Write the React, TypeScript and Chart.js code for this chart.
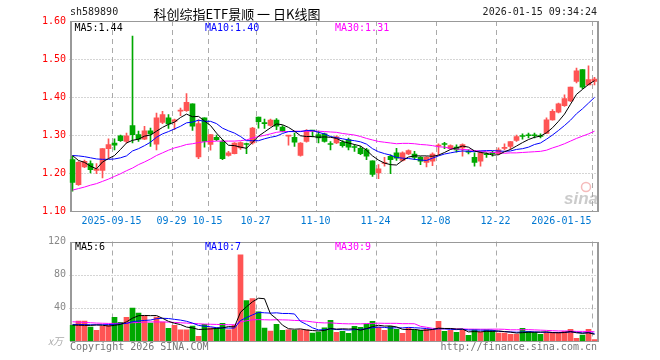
import React, { useEffect, useRef } from 'react';
import { Chart, registerables } from 'chart.js';

Chart.register(...registerables);

const DATES: string[] = [
  '2025-09-04','2025-09-05','2025-09-08','2025-09-09','2025-09-10','2025-09-11','2025-09-12','2025-09-15','2025-09-16','2025-09-17',
  '2025-09-18','2025-09-19','2025-09-22','2025-09-23','2025-09-24','2025-09-25','2025-09-26','2025-09-29','2025-09-30','2025-10-09',
  '2025-10-10','2025-10-13','2025-10-14','2025-10-15','2025-10-16','2025-10-17','2025-10-20','2025-10-21','2025-10-22','2025-10-23',
  '2025-10-24','2025-10-27','2025-10-28','2025-10-29','2025-10-30','2025-10-31','2025-11-03','2025-11-04','2025-11-05','2025-11-06',
  '2025-11-07','2025-11-10','2025-11-11','2025-11-12','2025-11-13','2025-11-14','2025-11-17','2025-11-18','2025-11-19','2025-11-20',
  '2025-11-21','2025-11-24','2025-11-25','2025-11-26','2025-11-27','2025-11-28','2025-12-01','2025-12-02','2025-12-03','2025-12-04',
  '2025-12-05','2025-12-08','2025-12-09','2025-12-10','2025-12-11','2025-12-12','2025-12-15','2025-12-16','2025-12-17','2025-12-18',
  '2025-12-19','2025-12-22','2025-12-23','2025-12-24','2025-12-25','2025-12-26','2025-12-29','2025-12-30','2025-12-31','2026-01-05',
  '2026-01-06','2026-01-07','2026-01-08','2026-01-09','2026-01-12','2026-01-13','2026-01-14','2026-01-15',
];

const OPEN: number[] = [
  1.235, 1.169, 1.216, 1.225, 1.207, 1.207, 1.264, 1.279, 1.298, 1.283,
  1.325, 1.301, 1.289, 1.311, 1.276, 1.333, 1.345, 1.336, 1.363, 1.364,
  1.382, 1.242, 1.345, 1.275, 1.294, 1.283, 1.246, 1.251, 1.266, 1.276,
  1.279, 1.347, 1.331, 1.325, 1.339, 1.321, 1.297, 1.294, 1.246, 1.283,
  1.311, 1.301, 1.303, 1.276, 1.279, 1.281, 1.288, 1.269, 1.265, 1.261,
  1.232, 1.200, 1.225, 1.244, 1.253, 1.233, 1.250, 1.250, 1.241, 1.228,
  1.231, 1.271, 1.276, 1.264, 1.268, 1.266, 1.256, 1.241, 1.231, 1.249,
  1.252, 1.251, 1.265, 1.270, 1.286, 1.297, 1.299, 1.299, 1.297, 1.304,
  1.340, 1.360, 1.377, 1.390, 1.441, 1.472, 1.432, 1.441,
];
const HIGH: number[] = [
  1.244, 1.230, 1.234, 1.232, 1.225, 1.264, 1.290, 1.290, 1.300, 1.305,
  1.560, 1.310, 1.323, 1.318, 1.358, 1.362, 1.354, 1.342, 1.371, 1.409,
  1.382, 1.340, 1.345, 1.301, 1.300, 1.288, 1.257, 1.280, 1.282, 1.279,
  1.320, 1.347, 1.342, 1.342, 1.343, 1.325, 1.299, 1.305, 1.280, 1.314,
  1.312, 1.310, 1.305, 1.283, 1.298, 1.285, 1.292, 1.275, 1.270, 1.265,
  1.232, 1.222, 1.241, 1.248, 1.265, 1.256, 1.261, 1.257, 1.243, 1.243,
  1.253, 1.277, 1.281, 1.274, 1.274, 1.277, 1.261, 1.253, 1.257, 1.253,
  1.257, 1.266, 1.277, 1.283, 1.300, 1.303, 1.305, 1.305, 1.303, 1.345,
  1.367, 1.384, 1.406, 1.426, 1.476, 1.472, 1.482, 1.452,
];
const LOW: number[] = [
  1.152, 1.167, 1.214, 1.200, 1.198, 1.187, 1.239, 1.261, 1.283, 1.279,
  1.279, 1.283, 1.288, 1.270, 1.261, 1.330, 1.317, 1.314, 1.351, 1.362,
  1.312, 1.238, 1.268, 1.260, 1.285, 1.235, 1.244, 1.250, 1.262, 1.251,
  1.276, 1.318, 1.317, 1.323, 1.314, 1.308, 1.273, 1.270, 1.244, 1.281,
  1.295, 1.279, 1.281, 1.261, 1.277, 1.268, 1.261, 1.257, 1.248, 1.235,
  1.191, 1.185, 1.218, 1.198, 1.233, 1.231, 1.248, 1.235, 1.222, 1.216,
  1.219, 1.248, 1.264, 1.262, 1.255, 1.244, 1.250, 1.218, 1.218, 1.241,
  1.244, 1.248, 1.261, 1.263, 1.283, 1.289, 1.292, 1.292, 1.292, 1.304,
  1.339, 1.358, 1.375, 1.388, 1.437, 1.422, 1.432, 1.432,
];
const CLOSE: number[] = [
  1.175, 1.228, 1.231, 1.209, 1.211, 1.264, 1.275, 1.273, 1.285, 1.298,
  1.301, 1.289, 1.311, 1.303, 1.345, 1.354, 1.329, 1.340, 1.364, 1.386,
  1.323, 1.330, 1.283, 1.301, 1.288, 1.238, 1.253, 1.279, 1.280, 1.275,
  1.318, 1.335, 1.330, 1.339, 1.323, 1.310, 1.299, 1.281, 1.279, 1.310,
  1.310, 1.292, 1.283, 1.275, 1.295, 1.272, 1.268, 1.267, 1.251, 1.244,
  1.196, 1.211, 1.226, 1.235, 1.239, 1.253, 1.259, 1.241, 1.231, 1.241,
  1.250, 1.272, 1.275, 1.272, 1.261, 1.275, 1.255, 1.228, 1.253, 1.248,
  1.251, 1.261, 1.266, 1.283, 1.296, 1.296, 1.298, 1.298, 1.296, 1.340,
  1.362, 1.382, 1.396, 1.426, 1.469, 1.426, 1.446, 1.447,
];

const MA5: number[] = [
  1.246, 1.233, 1.228, 1.218, 1.211, 1.229, 1.238, 1.246, 1.262, 1.279,
  1.286, 1.289, 1.297, 1.300, 1.310, 1.320, 1.328, 1.334, 1.346, 1.355,
  1.348, 1.349, 1.337, 1.325, 1.305, 1.288, 1.273, 1.272, 1.268, 1.265,
  1.281, 1.297, 1.308, 1.319, 1.329, 1.327, 1.320, 1.310, 1.298, 1.296,
  1.296, 1.294, 1.295, 1.294, 1.291, 1.283, 1.279, 1.275, 1.271, 1.260,
  1.245, 1.234, 1.226, 1.222, 1.221, 1.233, 1.242, 1.245, 1.245, 1.245,
  1.244, 1.247, 1.254, 1.262, 1.266, 1.271, 1.268, 1.258, 1.254, 1.252,
  1.247, 1.248, 1.256, 1.262, 1.271, 1.280, 1.288, 1.294, 1.297, 1.306,
  1.319, 1.336, 1.355, 1.381, 1.407, 1.420, 1.433, 1.443,
];
const MA10: number[] = [
  1.246, 1.245, 1.243, 1.240, 1.237, 1.236, 1.236, 1.237, 1.240, 1.245,
  1.258, 1.264, 1.272, 1.281, 1.294, 1.303, 1.309, 1.316, 1.323, 1.332,
  1.334, 1.339, 1.336, 1.336, 1.330, 1.318, 1.311, 1.305, 1.296, 1.285,
  1.285, 1.285, 1.290, 1.294, 1.297, 1.304, 1.309, 1.309, 1.309, 1.312,
  1.312, 1.307, 1.303, 1.296, 1.293, 1.290, 1.287, 1.285, 1.282, 1.276,
  1.264, 1.256, 1.251, 1.247, 1.241, 1.239, 1.238, 1.236, 1.234, 1.233,
  1.239, 1.245, 1.250, 1.253, 1.256, 1.258, 1.257, 1.256, 1.258, 1.259,
  1.259, 1.258, 1.257, 1.258, 1.262, 1.264, 1.268, 1.275, 1.279, 1.289,
  1.300, 1.312, 1.325, 1.339, 1.356, 1.369, 1.384, 1.399,
];
const MA30: number[] = [
  1.155, 1.159, 1.163, 1.168, 1.172, 1.178, 1.184, 1.191, 1.198, 1.206,
  1.213, 1.222, 1.229, 1.237, 1.246, 1.253, 1.260, 1.266, 1.270, 1.275,
  1.277, 1.280, 1.282, 1.283, 1.284, 1.284, 1.284, 1.284, 1.285, 1.287,
  1.292, 1.296, 1.299, 1.303, 1.307, 1.309, 1.309, 1.310, 1.310, 1.310,
  1.310, 1.310, 1.309, 1.308, 1.307, 1.304, 1.302, 1.300, 1.296, 1.291,
  1.287, 1.283, 1.281, 1.279, 1.277, 1.278, 1.278, 1.277, 1.275, 1.274,
  1.272, 1.269, 1.268, 1.265, 1.263, 1.262, 1.261, 1.259, 1.258, 1.256,
  1.254, 1.253, 1.252, 1.253, 1.253, 1.254, 1.255, 1.256, 1.257, 1.260,
  1.266, 1.271, 1.277, 1.284, 1.291, 1.297, 1.303, 1.310,
];

const VOLUME: number[] = [
  18.8, 24, 24, 16.8, 12.8, 17.6, 18.8, 28.4, 22.4, 28.4,
  39.6, 33.6, 30, 21.6, 28.8, 22.8, 15.2, 18.8, 13.6, 13.6,
  18, 5.6, 20, 16, 16, 21.2, 13.6, 18.8, 104, 48.8,
  51.2, 35.2, 15.6, 12, 20, 12.8, 13.6, 12.8, 13.6, 13.6,
  9.6, 10.8, 16, 24.8, 10.4, 11.6, 9.2, 17.6, 16.4, 20.4,
  23.6, 16.8, 12.8, 17.6, 14, 9.2, 15.6, 13.6, 12.8, 14,
  13.6, 23.6, 11.6, 12.8, 10.4, 13.6, 6.8, 13.6, 10.8, 13.6,
  12.8, 9.6, 9.6, 8, 8, 15.2, 11.6, 10.4, 8, 10.4,
  10.4, 10.4, 11.6, 14, 3.2, 7.2, 14, 1.6,
];
const VOL_MA5: number[] = [
  19.2, 19.0, 18.8, 18.8, 19.3, 19.0, 18.0, 18.9, 20.0, 23.1,
  27.5, 30.5, 30.8, 30.6, 30.7, 27.4, 23.7, 21.4, 19.8, 16.8,
  15.8, 13.9, 14.2, 14.6, 15.1, 15.8, 17.4, 17.1, 34.7, 41.3,
  47.3, 51.6, 51.0, 32.6, 26.8, 19.1, 14.8, 14.2, 14.6, 13.3,
  12.6, 12.1, 12.7, 15.0, 14.3, 14.7, 14.4, 14.7, 13.0, 15.0,
  17.4, 19.0, 18.0, 18.2, 17.0, 14.1, 13.8, 14.0, 13.0, 13.0,
  13.9, 15.5, 15.1, 15.1, 14.4, 14.4, 11.0, 11.4, 11.0, 11.7,
  11.5, 12.1, 11.3, 10.7, 9.6, 10.1, 10.5, 10.6, 10.6, 11.1,
  10.2, 9.9, 10.2, 11.4, 9.9, 9.3, 10.0, 8.0,
];
const VOL_MA10: number[] = [
  20.0, 20.0, 19.8, 19.6, 19.6, 19.6, 19.8, 20.2, 20.6, 21.2,
  23.3, 24.2, 24.8, 25.3, 26.9, 27.4, 27.1, 26.1, 25.2, 23.8,
  21.6, 18.8, 17.8, 17.2, 16.0, 15.8, 15.6, 15.6, 24.7, 28.2,
  31.5, 34.5, 34.0, 33.6, 34.0, 33.2, 33.2, 32.6, 23.6, 20.0,
  15.9, 13.4, 13.5, 14.8, 13.8, 13.7, 13.2, 13.7, 14.0, 14.7,
  16.1, 16.7, 16.4, 15.6, 16.0, 15.8, 16.4, 16.0, 15.6, 15.0,
  14.0, 14.7, 14.6, 14.1, 13.7, 14.2, 13.3, 13.3, 13.1, 13.0,
  13.0, 11.6, 11.4, 10.9, 10.6, 10.8, 11.3, 11.0, 10.7, 10.4,
  10.1, 10.2, 10.4, 11.0, 10.5, 9.7, 10.0, 9.1,
];
const VOL_MA30: number[] = [
  23.2, 22.8, 22.4, 22.0, 21.6, 21.4, 21.2, 21.2, 21.4, 21.6,
  22.0, 22.4, 22.8, 23.0, 23.0, 23.0, 22.8, 22.4, 22.0, 21.6,
  21.2, 20.8, 20.4, 20.2, 20.0, 19.8, 19.6, 19.6, 23.0, 24.4,
  25.5, 25.8, 25.6, 25.4, 25.6, 25.5, 25.3, 24.8, 24.5, 24.0,
  23.0, 22.2, 21.8, 21.9, 21.3, 20.9, 20.7, 20.7, 20.7, 21.0,
  21.2, 21.5, 21.3, 21.3, 21.3, 20.9, 20.9, 20.8, 17.7, 16.6,
  15.3, 14.9, 14.8, 14.8, 14.5, 14.5, 14.3, 14.3, 14.2, 14.2,
  14.3, 14.3, 14.1, 13.5, 13.5, 13.6, 13.7, 13.4, 13.1, 12.8,
  12.4, 12.1, 12.1, 12.0, 11.6, 11.6, 11.5, 11.1,
];

const TICK_DATES: string[] = ['2025-09-15','2025-09-29','2025-10-15','2025-10-27','2025-11-10','2025-11-24','2025-12-08','2025-12-22','2026-01-15'];
const TICK_LABELS: string[] = ['2025-09-15','09-29','10-15','10-27','11-10','11-24','12-08','12-22','2026-01-15'];
const PRICE_GRID: number[] = [1.2, 1.3, 1.4, 1.5];
const VOL_GRID: number[] = [40, 80];
const VOL_LEGEND: string[] = ['MA5:6', 'MA10:7', 'MA30:9'];

const TITLE_CODE = 'sh589890';
const TITLE = '科创综指ETF景顺 一 日K线图';
const TIMESTAMP = '2026-01-15 09:34:24';

const RED = '#ff5454';
const GREEN = '#00a800';
const MONO = '"DejaVu Sans Mono", monospace';
const FRAME = '#999999';
const GRID = '#aaaaaa';

function makeGridPlugin(id: string, hLines: number[], isPrice: boolean) {
  return {
    id,
    beforeDatasetsDraw(chart: any) {
      const { ctx, chartArea: a, scales } = chart;
      const x = scales.x;
      const y = scales.y;
      const slot = (a.right - a.left) / DATES.length;
      ctx.save();
      ctx.lineWidth = 1;
      ctx.strokeStyle = GRID;
      ctx.setLineDash([1, 2]);
      for (const v of hLines) {
        const py = Math.round(y.getPixelForValue(v)) + 0.5;
        ctx.beginPath();
        ctx.moveTo(a.left, py);
        ctx.lineTo(a.right, py);
        ctx.stroke();
      }
      ctx.setLineDash([5, 4]);
      for (const d of TICK_DATES) {
        const i = DATES.indexOf(d);
        const px = Math.round(x.getPixelForValue(i) - slot / 2) + 0.5;
        ctx.beginPath();
        ctx.moveTo(px, a.top);
        ctx.lineTo(px, a.bottom);
        ctx.stroke();
      }
      ctx.setLineDash([]);
      // frame
      ctx.strokeStyle = FRAME;
      ctx.lineWidth = 1;
      const top = Math.round(a.top) + 0.5;
      const bot = Math.round(a.bottom) + 0.5;
      ctx.beginPath();
      ctx.moveTo(70, top); ctx.lineTo(598.5, top);
      ctx.moveTo(70, bot); ctx.lineTo(598.5, bot);
      ctx.stroke();
      ctx.lineWidth = 2;
      ctx.beginPath();
      ctx.moveTo(71, top - 0.5); ctx.lineTo(71, bot + 0.5);
      ctx.moveTo(598, top - 0.5); ctx.lineTo(598, bot + 0.5);
      ctx.stroke();
      if (isPrice) {
        // faint sina watermark
        ctx.font = 'italic bold 17px "Liberation Sans", sans-serif';
        ctx.fillStyle = 'rgba(160,160,160,0.55)';
        ctx.textAlign = 'left';
        ctx.textBaseline = 'alphabetic';
        ctx.fillText('sina', 564, 204);
        ctx.strokeStyle = 'rgba(235,120,120,0.5)';
        ctx.lineWidth = 1.5;
        ctx.beginPath();
        ctx.arc(586, 187, 4.5, 0, Math.PI * 2);
        ctx.stroke();
      }
      ctx.restore();
    },
    afterDraw(chart: any) {
      const { ctx, chartArea: a, scales } = chart;
      const x = scales.x;
      const slot = (a.right - a.left) / DATES.length;
      ctx.save();
      ctx.font = `10px ${MONO}`;
      ctx.textBaseline = 'middle';
      if (isPrice) {
        const leg = [
          { t: `MA5:${MA5[MA5.length - 1].toFixed(2)}`, c: '#000000', dx: 5 },
          { t: `MA10:${MA10[MA10.length - 1].toFixed(2)}`, c: '#0000ff', dx: 135.5 },
          { t: `MA30:${MA30[MA30.length - 1].toFixed(2)}`, c: '#ff00ff', dx: 265.5 },
        ];
        ctx.textAlign = 'left';
        for (const l of leg) {
          ctx.fillStyle = l.c;
          ctx.fillText(l.t, a.left + l.dx, a.top + 7);
        }
        ctx.fillStyle = '#0078d2';
        TICK_DATES.forEach((d, k) => {
          const i = DATES.indexOf(d);
          const px = x.getPixelForValue(i) - slot / 2;
          ctx.textAlign = k === TICK_DATES.length - 1 ? 'right' : 'center';
          ctx.fillText(TICK_LABELS[k], px, a.bottom + 10);
        });
      } else {
        const cols = ['#000000', '#0000ff', '#ff00ff'];
        const dxs = [5.5, 135.5, 265.5];
        ctx.textAlign = 'left';
        VOL_LEGEND.forEach((t, k) => {
          ctx.fillStyle = cols[k];
          ctx.fillText(t, a.left + dxs[k], a.top + 6);
        });
        ctx.fillStyle = '#aaaaaa';
        ctx.textAlign = 'right';
        ctx.font = 'italic 10px "Noto Sans CJK SC", sans-serif';
        ctx.fillText('x万', 63, a.bottom);
      }
      ctx.restore();
    },
  };
}

export default function App() {
  const priceRef = useRef<HTMLCanvasElement>(null);
  const volRef = useRef<HTMLCanvasElement>(null);

  useEffect(() => {
    const colors = CLOSE.map((c, i) => (c >= OPEN[i] ? RED : GREEN));
    const lineDs = (data: number[], color: string) => ({
      type: 'line' as const,
      data,
      borderColor: color,
      borderWidth: 1,
      pointRadius: 0,
      tension: 0,
      fill: false,
      order: 0,
    });

    const price = new Chart(priceRef.current as HTMLCanvasElement, {
      type: 'bar',
      data: {
        labels: DATES,
        datasets: [
          lineDs(MA5, '#000000'),
          lineDs(MA10, '#0000ff'),
          lineDs(MA30, '#ff00ff'),
          {
            type: 'bar',
            data: OPEN.map((o, i) => [o, CLOSE[i]]),
            backgroundColor: colors,
            borderWidth: 0,
            barThickness: 5,
            minBarLength: 1,
            grouped: false,
            order: 1,
          } as any,
          {
            type: 'bar',
            data: LOW.map((l, i) => [l, HIGH[i]]),
            backgroundColor: colors,
            borderWidth: 0,
            barThickness: 1,
            grouped: false,
            order: 2,
          } as any,
        ],
      },
      options: {
        responsive: false,
        animation: false,
        events: [],
        layout: { padding: { left: 0, right: 62.5, top: 21, bottom: 21 } },
        plugins: { legend: { display: false }, tooltip: { enabled: false } },
        scales: {
          x: { type: 'category', display: false, offset: true, grid: { display: false } },
          y: {
            type: 'linear',
            min: 1.1,
            max: 1.6,
            afterFit: (s: any) => { s.width = 69.5; },
            grid: { display: false, drawTicks: false },
            border: { display: false },
            ticks: {
              stepSize: 0.1,
              color: '#ff0000',
              padding: 3.5,
              font: { family: MONO, size: 10 },
              callback: (v: any) => Number(v).toFixed(2),
            },
          },
        },
      } as any,
      plugins: [makeGridPlugin('priceGrid', PRICE_GRID, true)],
    });

    const vol = new Chart(volRef.current as HTMLCanvasElement, {
      type: 'bar',
      data: {
        labels: DATES,
        datasets: [
          lineDs(VOL_MA5, '#000000'),
          lineDs(VOL_MA10, '#0000ff'),
          lineDs(VOL_MA30, '#ff00ff'),
          {
            type: 'bar',
            data: VOLUME,
            backgroundColor: colors,
            borderWidth: 0,
            barThickness: 5,
            grouped: false,
            order: 1,
          } as any,
        ],
      },
      options: {
        responsive: false,
        animation: false,
        events: [],
        layout: { padding: { left: 0, right: 62.5, top: 9, bottom: 19 } },
        plugins: { legend: { display: false }, tooltip: { enabled: false } },
        scales: {
          x: { type: 'category', display: false, offset: true, grid: { display: false } },
          y: {
            type: 'linear',
            min: 0,
            max: 120,
            afterFit: (s: any) => { s.width = 69.5; },
            grid: { display: false, drawTicks: false },
            border: { display: false },
            ticks: {
              stepSize: 40,
              color: '#888888',
              padding: 3.5,
              font: { family: MONO, size: 10 },
              callback: (v: any) => (Number(v) === 0 ? '' : String(v)),
            },
          },
        },
      } as any,
      plugins: [makeGridPlugin('volGrid', VOL_GRID, false)],
    });

    return () => {
      price.destroy();
      vol.destroy();
    };
  }, []);

  const mono: React.CSSProperties = {
    position: 'absolute',
    fontFamily: MONO,
    fontSize: 10,
    lineHeight: '12px',
    whiteSpace: 'nowrap',
  };

  return (
    <div style={{ position: 'fixed', left: 0, top: 0, width: 660, height: 360, background: '#ffffff', overflow: 'hidden' }}>
      <canvas ref={priceRef} width={660} height={232} style={{ position: 'absolute', left: 0, top: 0, width: 660, height: 232 }} />
      <canvas ref={volRef} width={660} height={128} style={{ position: 'absolute', left: 0, top: 232, width: 660, height: 128 }} />
      <div style={{ ...mono, left: 70, top: 6, color: '#222' }}>{TITLE_CODE}</div>
      <div
        style={{
          position: 'absolute',
          left: 237,
          top: 5,
          transform: 'translateX(-50%)',
          fontFamily: '"Noto Sans CJK SC", sans-serif',
          fontSize: 13,
          lineHeight: '17px',
          color: '#000',
          whiteSpace: 'pre',
        }}
      >
        {TITLE}
      </div>
      <div style={{ ...mono, right: 63, top: 6, color: '#222' }}>{TIMESTAMP}</div>
      <div style={{ ...mono, left: 70, top: 341, color: '#777' }}>Copyright 2026 SINA.COM</div>
      <div style={{ ...mono, right: 63, top: 341, color: '#777' }}>http://finance.sina.com.cn</div>
    </div>
  );
}
